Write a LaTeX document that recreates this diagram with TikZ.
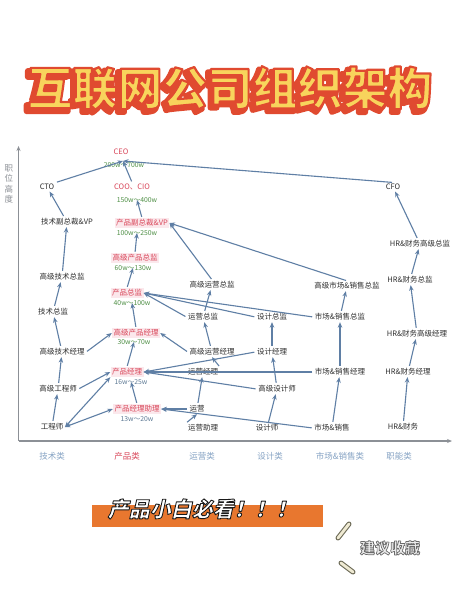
\documentclass[tikz,border=0pt]{standalone}
\usepackage{fontspec}
\newfontfamily\cjk{Noto Sans CJK SC}
\usetikzlibrary{arrows.meta,calc}
\definecolor{arrc}{HTML}{5F7FA5}
\definecolor{txt}{HTML}{2E2E2E}
\definecolor{pred}{HTML}{D9475A}
\definecolor{sal}{HTML}{4E8F45}
\definecolor{salb}{HTML}{5E7A95}
\definecolor{catc}{HTML}{86A3C4}
\definecolor{axc}{HTML}{8C9096}
\definecolor{tyel}{HTML}{F8D45C}
\definecolor{tred}{HTML}{E04A30}
\definecolor{bannero}{HTML}{E8772F}
\definecolor{pinkbg}{HTML}{FBE8EC}
\definecolor{pillo}{HTML}{6E6C58}
\definecolor{pilli}{HTML}{EFEAD3}
% outlined text: #1 stroke width, #2 stroke colour (rgb), #3 text
\newcommand\strktext[3]{\special{pdf:literal direct #1 w 1 j #2 RG 2 Tr}#3\special{pdf:literal direct 0 Tr}}
\begin{document}
\begin{tikzpicture}[x=1pt,y=-1pt,
  nd/.style={font=\cjk\fontsize{7.5}{8}\selectfont, text=txt, inner sep=1.5pt},
  pn/.style={nd, text=pred},
  pnb/.style={pn, fill=pinkbg},
  sl/.style={font=\cjk\fontsize{6.8}{7}\selectfont, text=sal, inner sep=0.5pt},
  slb/.style={sl, text=salb},
  cat/.style={font=\cjk\fontsize{8.5}{9}\selectfont, text=catc},
  arr/.style={draw=arrc, line width=1.1pt, -{Stealth[length=5.5pt,width=4.5pt]}, shorten <=1pt},
  darr/.style={draw=arrc, line width=1.1pt, {Stealth[length=5.5pt,width=4.5pt]}-{Stealth[length=5.5pt,width=4.5pt]}},
  axis/.style={draw=axc, line width=1.1pt, -{Stealth[length=5pt,width=4pt]}},
  ttl/.style={font=\cjk\bfseries\fontsize{45}{50}\selectfont, inner sep=0pt},
  btx/.style={font=\cjk\bfseries\fontsize{21}{24}\selectfont, inner sep=0pt, transform shape},
  stx/.style={font=\cjk\bfseries\fontsize{15}{18}\selectfont, inner sep=0pt}
]
\useasboundingbox[fill=white] (0,0) rectangle (455,600);

% ---------- title ----------
\node[ttl,text=tred] (titleshadow) at (227,91) {\strktext{5.5}{0.878 0.29 0.188}{互联网公司组织架构}};
\node[ttl,text=tyel] (title) at (230,88) {\strktext{2.2}{0.878 0.29 0.188}{互联网公司组织架构}};

% ---------- axes ----------
\coordinate (orig) at (18.5,441);
\coordinate (ytop) at (18.5,146);
\coordinate (xend) at (452,441);
\draw[axis] (orig) -- (ytop);
\draw[axis] (orig) -- (xend);
\node[font=\cjk\fontsize{8.5}{10.5}\selectfont, text=axc, align=center] (ylab) at (9,184) {职\\位\\高\\度};

% ---------- categories ----------
\node[cat] (c1) at (52,456) {技术类};
\node[cat,text=pred] (c2) at (127,456) {产品类};
\node[cat] (c3) at (202,456) {运营类};
\node[cat] (c4) at (270,456) {设计类};
\node[cat] (c5) at (340,456) {市场\&销售类};
\node[cat] (c6) at (399,456) {职能类};

% ---------- tech ----------
\node[nd] (cto) at (47,187) {CTO};
\node[nd] (tvp) at (67,222) {技术副总裁\&VP};
\node[nd] (tsd) at (62,277) {高级技术总监};
\node[nd] (td) at (53,312) {技术总监};
\node[nd] (tsm) at (62,352) {高级技术经理};
\node[nd] (tse) at (58,389) {高级工程师};
\node[nd] (te) at (52,427) {工程师};

% ---------- product ----------
\node[pn] (ceo) at (121,152) {CEO};
\node[sl] (ceos) at (124,165) {200w～700w};
\node[pn] (coo) at (132,187) {COO、CIO};
\node[sl] (coos) at (137,200) {150w～400w};
\node[pnb] (pvp) at (142,223) {产品副总裁\&VP};
\node[sl] (pvps) at (137,233) {100w～250w};
\node[pnb] (psd) at (135,258) {高级产品总监};
\node[sl] (psds) at (133,268) {60w～130w};
\node[pnb] (pd) at (127,293) {产品总监};
\node[sl] (pds) at (132,303) {40w～100w};
\node[pnb] (psm) at (136,333) {高级产品经理};
\node[sl] (psms) at (134,342) {30w～70w};
\node[pnb] (pm) at (127,372) {产品经理};
\node[slb] (pms) at (131,382) {16w～25w};
\node[pnb] (pa) at (137,409) {产品经理助理};
\node[slb] (pas) at (137,419) {13w～20w};
\coordinate (ceoT) at (123,161);

% ---------- operations ----------
\node[nd] (osd) at (212,285) {高级运营总监};
\node[nd] (od) at (203,317) {运营总监};
\node[nd] (osm) at (212,352) {高级运营经理};
\node[nd] (om) at (203,372) {运营经理};
\node[nd] (op) at (197,409) {运营};
\node[nd] (oa) at (203,428) {运营助理};

% ---------- design ----------
\node[nd] (dd) at (272,317) {设计总监};
\node[nd] (dm) at (272,352) {设计经理};
\node[nd] (dsd) at (277,389) {高级设计师};
\node[nd] (ds) at (267,428) {设计师};

% ---------- market ----------
\node[nd] (msd) at (347,286) {高级市场\&销售总监};
\node[nd] (md) at (340,317) {市场\&销售总监};
\node[nd] (mm) at (340,372) {市场\&销售经理};
\node[nd] (ms) at (332,428) {市场\&销售};

% ---------- HR ----------
\node[nd] (cfo) at (393,187) {CFO};
\node[nd] (hsd) at (420,244) {HR\&财务高级总监};
\node[nd] (hd) at (410,280) {HR\&财务总监};
\node[nd] (hsm) at (417,334) {HR\&财务高级经理};
\node[nd] (hm) at (408,372) {HR\&财务经理};
\node[nd] (hs) at (403,427) {HR\&财务};

% ---------- connectors: tech ----------
\draw[arr] (te) -- (tse);
\draw[arr] (tse) -- (tsm);
\draw[arr] (tsm) -- (td);
\draw[arr] (td) -- (tsd);
\draw[arr] (tsd) -- (tvp);
\draw[arr] (tvp) -- (cto);
\draw[arr] (cto.north east) -- (ceoT);
\draw[arr] (tse.east) -- (pm.west);
\draw[arr] (tsm.east) -- (psm.west);
\draw[darr] (te.east) -- (pm.south west);
\draw[darr] (te.east) -- (pa.west);

% ---------- connectors: product ----------
\draw[arr] (coo.north) -- (ceoT);
\draw[arr] (pvp.north) -- (coos.center);
\draw[arr] (psd.north) -- (pvps.center);
\draw[arr] (pd.north) -- (psds.center);
\draw[arr] (psm.north) -- (pds.center);
\draw[arr] (pm.north) -- (psms.center);
\draw[arr] (pa.north) -- (pms.center);

% ---------- connectors: operations ----------
\draw[arr] (osd.north) -- (pvp.east);
\draw[arr] (od) -- (osd);
\draw[arr] (od.west) -- (pd.east);
\draw[arr] (osm) -- (od);
\draw[arr] (osm.west) -- (psm.east);
\draw[arr] (om.north east) -- (osm.south);
\draw[arr] (op) -- (om);
\draw[arr] (op.west) -- (pa.east);
\draw[arr] (oa.north west) -- (op.south);

% ---------- connectors: design ----------
\draw[arr] (dd.west) -- (pd.east);
\draw[arr] (dm.west) -- (pm.east);
\draw[arr] (dsd.west) -- (pm.east);
\draw[arr] (ds) -- (dsd);
\draw[arr] (dsd) -- (dm);
\draw[arr] (dm) -- (dd);

% ---------- connectors: market ----------
\draw[arr] (msd.north) -- (pvp.east);
\draw[arr] (md.west) -- (pd.east);
\draw[arr] (mm.west) -- (pm.east);
\draw[arr] (ms.west) -- (pa.east);
\draw[arr] (ms) -- (mm);
\draw[arr] (mm) -- (md);
\draw[arr] (md) -- (msd);

% ---------- connectors: HR ----------
\draw[arr] (hs) -- (hm);
\draw[arr] (hm) -- (hsm);
\draw[arr] (hsm) -- (hd);
\draw[arr] (hd) -- (hsd);
\draw[arr] (hsd) -- (cfo);
\draw[arr] (cfo.north) -- (ceoT);

% ---------- banner ----------
\fill[bannero] (92,505) rectangle (323,527);
\begin{scope}[shift={(204,509)}, xslant=0.22]
  \node[btx,text=white] (banner) at (0,0) {\strktext{0.9}{0.1 0.1 0.1}{产品小白必看！！！}};
\end{scope}

% ---------- save hint ----------
\node[stx,text=gray!15] (save) at (390,548) {\strktext{0.7}{0.42 0.42 0.42}{建议收藏}};
\draw[pillo,line width=5pt,line cap=round] (338,538) -- (349,524);
\draw[pilli,line width=2.8pt,line cap=round] (338,538) -- (349,524);
\draw[pillo,line width=5pt,line cap=round] (341,563) -- (353,572);
\draw[pilli,line width=2.8pt,line cap=round] (341,563) -- (353,572);
\end{tikzpicture}
\end{document}
